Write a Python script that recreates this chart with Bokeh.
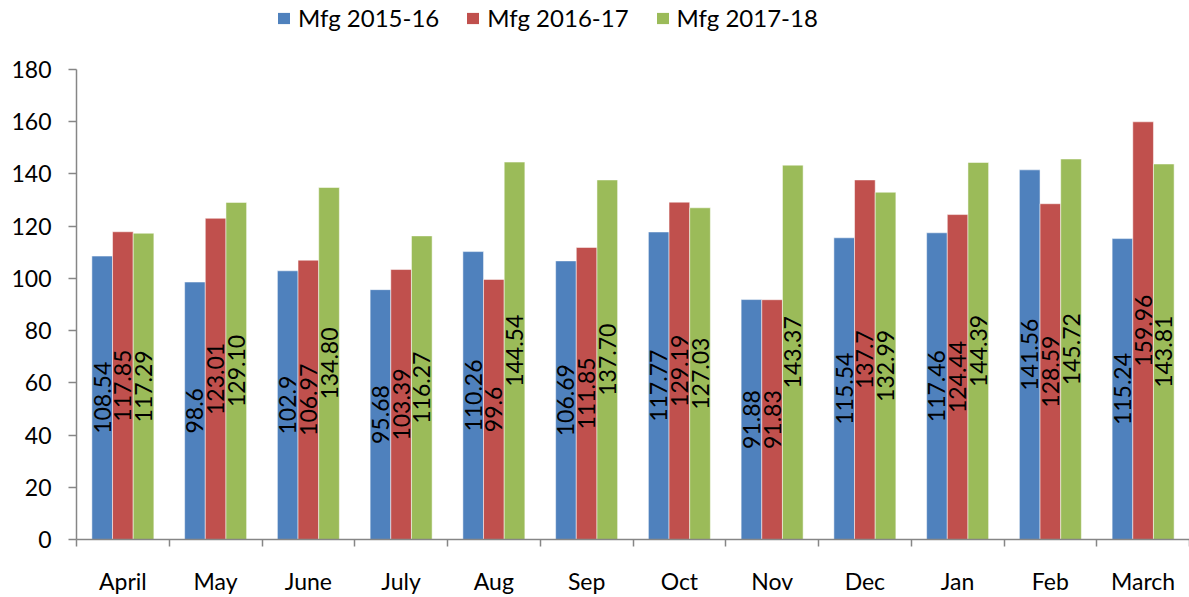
from math import pi
from bokeh.plotting import figure
from bokeh.layouts import column
from bokeh.models import ColumnDataSource, Range1d, FixedTicker, Legend, LegendItem
from bokeh.transform import dodge
from bokeh.core.properties import value
from bokeh.embed import file_html
from bokeh.resources import INLINE

months = ["April", "May", "June", "July", "Aug", "Sep", "Oct", "Nov", "Dec", "Jan", "Feb", "March"]
series_names = ["Mfg 2015-16", "Mfg 2016-17", "Mfg 2017-18"]
labels_1516 = ["108.54", "98.6", "102.9", "95.68", "110.26", "106.69", "117.77", "91.88", "115.54", "117.46", "141.56", "115.24"]
labels_1617 = ["117.85", "123.01", "106.97", "103.39", "99.6", "111.85", "129.19", "91.83", "137.7", "124.44", "128.59", "159.96"]
labels_1718 = ["117.29", "129.10", "134.80", "116.27", "144.54", "137.70", "127.03", "143.37", "132.99", "144.39", "145.72", "143.81"]
colors = ["#4F81BD", "#C0504D", "#9BBB59"]
y_ticks = [0, 20, 40, 60, 80, 100, 120, 140, 160, 180]

FONT = "Lato"
AXIS_COLOR = "#868686"
W = 1189

centers = [i + 0.5 for i in range(len(months))]
boundaries = list(range(len(months) + 1))

# ---- legend strip on top ----
lg = figure(width=W, height=45, output_backend="svg", toolbar_location=None,
            x_range=Range1d(0, 1), y_range=Range1d(0, 1),
            x_axis_location=None, y_axis_location=None,
            min_border_left=76, min_border_right=0, min_border_top=0, min_border_bottom=0)
lg.outline_line_color = None
lg.border_fill_color = "white"
lg.background_fill_color = "white"
lg.grid.visible = False
dummy = [lg.vbar(x=[0.5], top=[0], bottom=[0], width=0, fill_color=c, line_color=None) for c in colors]
legend = Legend(items=[LegendItem(label=n, renderers=[r]) for n, r in zip(series_names, dummy)],
                orientation="horizontal", location=(200, 13),
                label_text_font=FONT, label_text_font_size="24px", label_text_color="black",
                glyph_width=15, glyph_height=14, label_standoff=7, spacing=26,
                padding=0, margin=0, border_line_color=None, background_fill_alpha=0)
lg.add_layout(legend, "center")

# ---- main chart ----
p = figure(width=W, height=552, output_backend="svg", toolbar_location=None,
           x_range=Range1d(0, len(months)), y_range=Range1d(0, 180),
           min_border_left=76, min_border_right=0, min_border_top=24, min_border_bottom=58)
p.outline_line_color = None
p.xgrid.visible = False
p.ygrid.visible = False

bw = 0.2228
offsets = [-bw, 0.0, bw]
for lbls, col, off in zip([labels_1516, labels_1617, labels_1718], colors, offsets):
    vals = [float(s) for s in lbls]
    src = ColumnDataSource(dict(x=centers, top=vals, mid=[v / 2 for v in vals], label=lbls))
    p.vbar(x=dodge("x", off), top="top", bottom=0, width=bw, source=src,
           fill_color=col, line_color="white", line_alpha=0.5, line_width=1)
    p.text(x=dodge("x", off), y="mid", text="label", source=src, angle=pi / 2,
           text_align="center", text_baseline="middle", text_color="black",
           text_font=value(FONT), text_font_size="23px")

# y axis
ya = p.yaxis[0]
ya.ticker = FixedTicker(ticks=y_ticks)
ya.axis_line_color = AXIS_COLOR
ya.axis_line_width = 1.5
ya.major_tick_line_color = AXIS_COLOR
ya.major_tick_line_width = 1.5
ya.major_tick_out = 8
ya.major_tick_in = 0
ya.minor_tick_line_color = None
ya.major_label_text_font = FONT
ya.major_label_text_font_size = "23px"
ya.major_label_text_color = "black"
ya.major_label_standoff = 17

# x axis
xa = p.xaxis[0]
xa.ticker = FixedTicker(ticks=centers, minor_ticks=boundaries)
xa.major_label_overrides = {c: m for c, m in zip(centers, months)}
xa.axis_line_color = AXIS_COLOR
xa.axis_line_width = 1.5
xa.major_tick_line_color = None
xa.major_tick_out = 0
xa.major_tick_in = 0
xa.minor_tick_line_color = AXIS_COLOR
xa.minor_tick_line_width = 1.5
xa.minor_tick_out = 7
xa.minor_tick_in = 0
xa.major_label_text_font = FONT
xa.major_label_text_font_size = "23px"
xa.major_label_text_color = "black"
xa.major_label_standoff = 20

layout = column(lg, p, spacing=0)
open("out.html", "w").write(file_html(layout, INLINE))
